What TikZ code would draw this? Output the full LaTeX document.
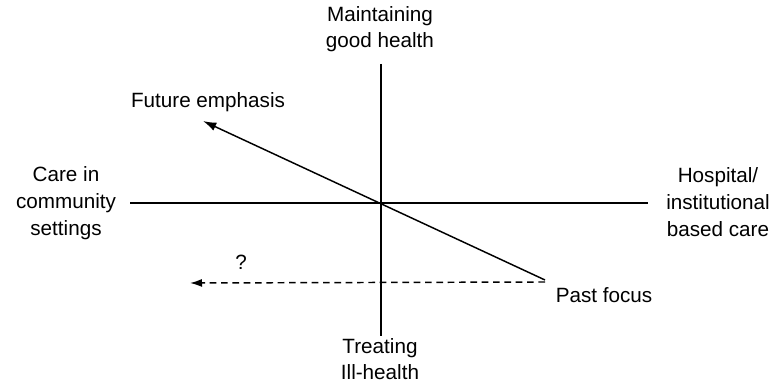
\documentclass[tikz,border=0pt]{standalone}
\usepackage{fontspec}
\setmainfont{Liberation Sans}
\usetikzlibrary{arrows.meta}
\begin{document}
\begin{tikzpicture}[x=0.75pt,y=-0.75pt,
  lbl/.style={align=center,inner sep=0pt,font=\fontsize{15.5}{20}\selectfont},
  axis/.style={line width=1.3pt},
  arr/.style={line width=1.1pt,-{Latex[length=10pt,width=6.5pt]}},
  darr/.style={line width=1.1pt,dash pattern=on 5pt off 3.5pt,-{Latex[length=9pt,width=6pt]}}]
\useasboundingbox (0,0) rectangle (772,384);
% axes end points
\coordinate (top) at (381,64);
\coordinate (bot) at (381,336);
\coordinate (left) at (130,203);
\coordinate (right) at (648,203);
\coordinate (past) at (545,280);
\coordinate (fut) at (203,121);
\coordinate (dstart) at (545,282);
\coordinate (dend) at (190,283);
\draw[axis] (top) -- (bot);
\draw[axis] (left) -- (right);
\draw[arr] (past) -- (fut);
\draw[darr] (dstart) -- (dend);
% labels
\node[lbl] (mgh) at (380,29) {Maintaining\\good health};
\node[lbl] (tih) at (380,359) {Treating\\Ill-health};
\node[lbl] (cic) at (66,203) {Care in\\community\\settings};
\node[lbl] (hib) at (718,202) {Hospital/\\institutional\\based care};
\node[lbl] (fe) at (208,102) {Future emphasis};
\node[lbl] (pf) at (604,295) {Past focus};
\node[lbl] (q) at (241,262) {?};
\end{tikzpicture}
\end{document}
